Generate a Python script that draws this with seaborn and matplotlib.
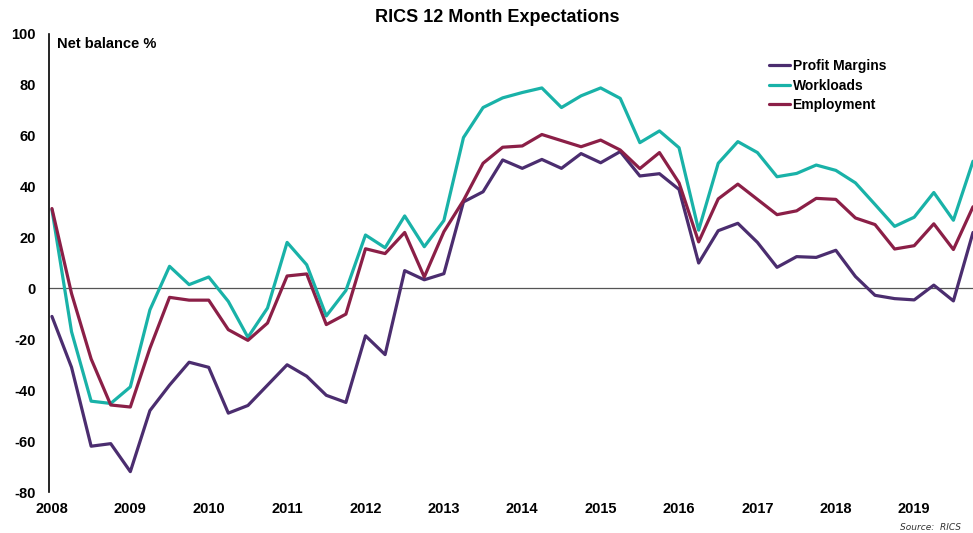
import matplotlib
matplotlib.use("Agg")
import matplotlib.pyplot as plt
import seaborn as sns
import pandas as pd
import numpy as np

years = list(range(2008, 2020))
quarters = [f"{y}Q{q}" for y in years for q in range(1, 5)]

profit_margins = [-11, -31, -62, -61, -72, -48, -38, -29, -31, -49, -46, -38,
                  -30, -34.5, -42, -44.8, -18.6, -26, 7, 3.4, 5.8, 34, 38, 50.5,
                  47.2, 50.7, 47.2, 53, 49.4, 53.8, 44.2, 45.1, 38.9, 10, 22.7, 25.6,
                  18.1, 8.3, 12.5, 12.2, 15, 4.7, -2.7, -4, -4.5, 1.3, -4.9, 22]
workloads = [31, -17, -44.3, -45.2, -38.7, -8.4, 8.7, 1.5, 4.5, -5.1, -19.2, -7.7,
             18.1, 9.3, -10.8, -0.8, 21, 16, 28.5, 16.4, 26.7, 59.3, 71.1, 74.9,
             77, 78.8, 71.1, 75.7, 78.8, 74.7, 57.3, 61.9, 55.3, 22.9, 49.2, 57.7,
             53.4, 43.9, 45.2, 48.5, 46.4, 41.5, 33, 24.4, 28, 37.7, 26.8, 50]
employment = [31.4, -2, -27.7, -45.8, -46.6, -23.5, -3.5, -4.6, -4.6, -16.2, -20.4, -13.6,
              4.9, 5.7, -14.2, -10.1, 15.6, 13.7, 22, 4.5, 22.3, 34.6, 49.2, 55.5,
              56, 60.5, 58.1, 55.7, 58.3, 54.4, 47.1, 53.4, 41.5, 18.3, 35.2, 41,
              35, 29, 30.5, 35.4, 35, 27.7, 25.1, 15.5, 16.8, 25.4, 15.3, 32.1]

series_names = ["Profit Margins", "Workloads", "Employment"]
colors = ["#4B2D6F", "#19B2A8", "#8B1F47"]
ytick_values = [-80, -60, -40, -20, 0, 20, 40, 60, 80, 100]

idx = np.arange(len(quarters))
df = pd.concat([
    pd.DataFrame({"t": idx, "value": profit_margins, "series": series_names[0]}),
    pd.DataFrame({"t": idx, "value": workloads, "series": series_names[1]}),
    pd.DataFrame({"t": idx, "value": employment, "series": series_names[2]}),
])

sns.set_style("white")
plt.rcParams["font.family"] = ["Liberation Sans", "DejaVu Sans"]
plt.rcParams["text.color"] = "black"
plt.rcParams["xtick.color"] = "black"
plt.rcParams["ytick.color"] = "black"

fig = plt.figure(figsize=(9.73, 5.33), dpi=100)
ax = fig.add_axes([49 / 973, 41 / 533, 924 / 973, 458 / 533])

sns.lineplot(data=df, x="t", y="value", hue="series", hue_order=series_names,
             palette=colors, linewidth=2.3, ax=ax, legend=True)

ax.axhline(0, color="#555555", linewidth=0.9, zorder=1)

ax.set_xlim(-0.15, 47.0)
ax.set_ylim(-80, 100)
ax.set_yticks(ytick_values)
ax.set_yticklabels([str(v) for v in ytick_values], fontweight="bold", fontsize=10.5)
ax.set_xticks([i * 4 for i in range(len(years))])
ax.set_xticklabels([str(y) for y in years], fontweight="bold", fontsize=10.5)
ax.tick_params(axis="both", length=0, colors="black")
ax.tick_params(axis="y", pad=9.5)
ax.tick_params(axis="x", pad=7.5)
ax.set_xlabel("")
ax.set_ylabel("")

for s in ["top", "right", "bottom"]:
    ax.spines[s].set_visible(False)
ax.spines["left"].set_color("black")
ax.spines["left"].set_linewidth(1.2)

ax.text(0.009, 0.993, "Net balance %", transform=ax.transAxes, fontsize=10.5,
        fontweight="bold", ha="left", va="top")

fig.text(497 / 973, 1 - 17 / 533, "RICS 12 Month Expectations", fontsize=13,
         fontweight="bold", ha="center", va="center")

leg = ax.legend(loc="upper left", bbox_to_anchor=(769 / 973, 1 - 59 / 533),
                bbox_transform=fig.transFigure, frameon=False,
                handlelength=1.5, handletextpad=0.2, labelspacing=0.4,
                borderpad=0, borderaxespad=0, prop={"weight": "bold", "size": 10})
for line in leg.get_lines():
    line.set_linewidth(2.3)

fig.text(961 / 973, 1 - 528 / 533, "Source:  RICS", fontsize=6.5, style="italic",
         family="DejaVu Sans", color="#333333", ha="right", va="center")

fig.savefig("out.png", dpi=100)
